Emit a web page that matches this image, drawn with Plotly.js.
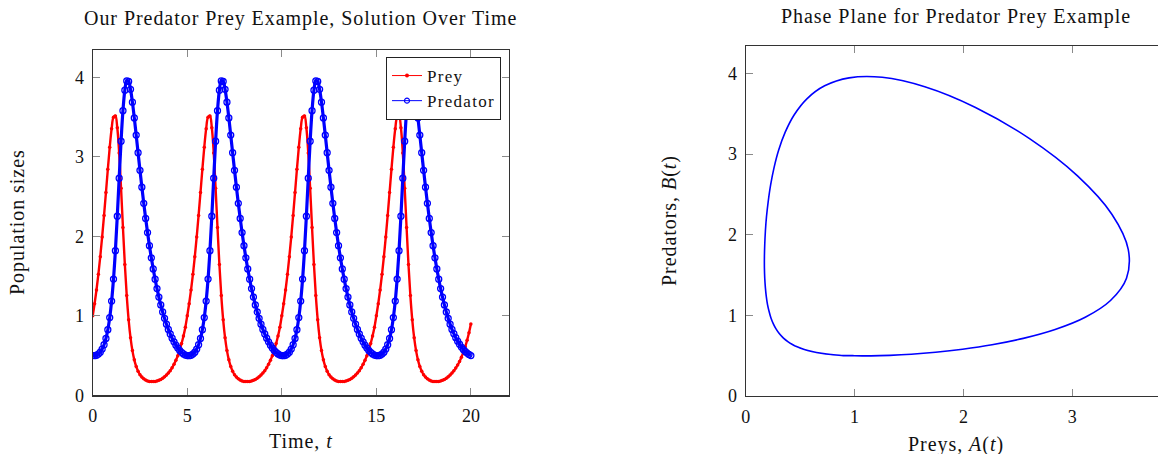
<!DOCTYPE html>
<html><head><meta charset="utf-8">
<script src="https://cdn.plot.ly/plotly-3.0.1.min.js"></script>
<style>
html,body{margin:0;padding:0;overflow:hidden;width:1158px;height:454px;background:#fff}
#chart{width:1180px;height:454px}
text.annotation-text{letter-spacing:0.95px}
text.legendtext{letter-spacing:1.3px}
</style>
</head><body><div id="chart"></div>
<script>
// sample times t
const time = [0,0.1,0.2,0.3,0.4,0.5,0.6,0.7,0.8,0.9,1,1.1,1.2,1.3,1.4,1.5,1.6,1.7,1.8,1.9,2,2.1,2.2,2.3,2.4,2.5,2.6,2.7,2.8,2.9,3,3.1,3.2,3.3,3.4,3.5,3.6,3.7,3.8,3.9,4,4.1,4.2,4.3,4.4,4.5,4.6,4.7,4.8,4.9,
5,5.1,5.2,5.3,5.4,5.5,5.6,5.7,5.8,5.9,6,6.1,6.2,6.3,6.4,6.5,6.6,6.7,6.8,6.9,7,7.1,7.2,7.3,7.4,7.5,7.6,7.7,7.8,7.9,8,8.1,8.2,8.3,8.4,8.5,8.6,8.7,8.8,8.9,9,9.1,9.2,9.3,9.4,9.5,9.6,9.7,9.8,9.9,
10,10.1,10.2,10.3,10.4,10.5,10.6,10.7,10.8,10.9,11,11.1,11.2,11.3,11.4,11.5,11.6,11.7,11.8,11.9,12,12.1,12.2,12.3,12.4,12.5,12.6,12.7,12.8,12.9,13,13.1,13.2,13.3,13.4,13.5,13.6,13.7,13.8,13.9,14,14.1,14.2,14.3,14.4,14.5,14.6,14.7,14.8,14.9,
15,15.1,15.2,15.3,15.4,15.5,15.6,15.7,15.8,15.9,16,16.1,16.2,16.3,16.4,16.5,16.6,16.7,16.8,16.9,17,17.1,17.2,17.3,17.4,17.5,17.6,17.7,17.8,17.9,18,18.1,18.2,18.3,18.4,18.5,18.6,18.7,18.8,18.9,19,19.1,19.2,19.3,19.4,19.5,19.6,19.7,19.8,19.9,20];

// prey population A(t)
const prey = [1.000,1.151,1.324,1.521,1.744,1.992,2.263,2.550,2.842,3.119,3.351,3.498,3.514,3.365,3.048,2.604,2.111,1.645,1.254,0.950,0.725,0.562,0.446,0.363,0.303,0.260,0.229,0.207,0.191,0.181,0.175,0.172,0.172,0.175,0.181,0.189,0.200,0.215,0.232,0.254,0.280,0.310,0.347,0.390,0.440,0.499,0.569,0.651,0.746,0.857,
1.000,1.151,1.324,1.521,1.744,1.992,2.263,2.550,2.842,3.119,3.351,3.498,3.514,3.365,3.048,2.604,2.111,1.645,1.254,0.950,0.725,0.562,0.446,0.363,0.303,0.260,0.229,0.207,0.191,0.181,0.175,0.172,0.172,0.175,0.181,0.189,0.200,0.215,0.232,0.254,0.280,0.310,0.347,0.390,0.440,0.499,0.569,0.651,0.746,0.857,
1.000,1.151,1.324,1.521,1.744,1.992,2.263,2.550,2.842,3.119,3.351,3.498,3.514,3.365,3.048,2.604,2.111,1.645,1.254,0.950,0.725,0.562,0.446,0.363,0.303,0.260,0.229,0.207,0.191,0.181,0.175,0.172,0.172,0.175,0.181,0.189,0.200,0.215,0.232,0.254,0.280,0.310,0.347,0.390,0.440,0.499,0.569,0.651,0.746,0.857,
1.000,1.151,1.324,1.521,1.744,1.992,2.263,2.550,2.842,3.119,3.351,3.498,3.514,3.365,3.048,2.604,2.111,1.645,1.254,0.950,0.725,0.562,0.446,0.363,0.303,0.260,0.229,0.207,0.191,0.181,0.175,0.172,0.172,0.175,0.181,0.189,0.200,0.215,0.232,0.254,0.280,0.308,0.342,0.381,0.425,0.478,0.539,0.610,0.692,0.786,0.897];

// predator population B(t)
const predator = [0.500,0.498,0.504,0.518,0.543,0.581,0.636,0.715,0.825,0.977,1.185,1.462,1.819,2.252,2.730,3.195,3.580,3.837,3.954,3.947,3.848,3.687,3.489,3.273,3.051,2.830,2.618,2.415,2.225,2.047,1.882,1.729,1.589,1.460,1.342,1.235,1.137,1.048,0.968,0.895,0.829,0.771,0.718,0.672,0.631,0.595,0.565,0.540,0.520,0.506,
0.500,0.498,0.504,0.518,0.543,0.581,0.636,0.715,0.825,0.977,1.185,1.462,1.819,2.252,2.730,3.195,3.580,3.837,3.954,3.947,3.848,3.687,3.489,3.273,3.051,2.830,2.618,2.415,2.225,2.047,1.882,1.729,1.589,1.460,1.342,1.235,1.137,1.048,0.968,0.895,0.829,0.771,0.718,0.672,0.631,0.595,0.565,0.540,0.520,0.506,
0.500,0.498,0.504,0.518,0.543,0.581,0.636,0.715,0.825,0.977,1.185,1.462,1.819,2.252,2.730,3.195,3.580,3.837,3.954,3.947,3.848,3.687,3.489,3.273,3.051,2.830,2.618,2.415,2.225,2.047,1.882,1.729,1.589,1.460,1.342,1.235,1.137,1.048,0.968,0.895,0.829,0.771,0.718,0.672,0.631,0.595,0.565,0.540,0.520,0.506,
0.500,0.498,0.504,0.518,0.543,0.581,0.636,0.715,0.825,0.977,1.185,1.462,1.819,2.252,2.730,3.195,3.580,3.837,3.954,3.947,3.848,3.687,3.489,3.273,3.051,2.830,2.618,2.415,2.225,2.047,1.882,1.729,1.589,1.460,1.342,1.235,1.137,1.048,0.968,0.895,0.829,0.775,0.725,0.681,0.642,0.607,0.577,0.552,0.531,0.514,0.500];

const timeTicks = [0,5,10,15,20];
const popTicks = [0,1,2,3,4];
const preyTicks = [0,1,2,3];
const seriesNames = ['Prey','Predator'];
const leftTitle = 'Our Predator Prey Example, Solution Over Time';
const rightTitle = 'Phase Plane for Predator Prey Example';
const timeLabel = 'Time, <i>t</i>';
const popLabel = 'Population sizes';
const preyLabel = 'Preys, <i>A</i>(<i>t</i>)';
const predLabel = 'Predators, <i>B</i>(<i>t</i>)';

const W = 1180, H = 454;
const px = x => x / W;
const py = y => 1 - y / H;
const FONT = '"Liberation Serif", "Times New Roman", serif';
const RED = '#ff0000', BLUE = '#0000ff';

const traces = [
  {x: time, y: prey, name: seriesNames[0], type: 'scatter', mode: 'lines+markers', showlegend: false,
   line: {color: RED, width: 2.4, shape: 'spline'},
   marker: {color: RED, size: 3.5, symbol: 'circle'}, xaxis: 'x', yaxis: 'y'},
  {x: time, y: predator, name: seriesNames[1], type: 'scatter', mode: 'lines+markers', showlegend: false,
   line: {color: BLUE, width: 3.2, shape: 'spline'},
   marker: {color: BLUE, size: 6, symbol: 'circle-open', line: {color: BLUE, width: 1.3}}, xaxis: 'x', yaxis: 'y'},
  {x: prey, y: predator, type: 'scatter', mode: 'lines', showlegend: false,
   line: {color: BLUE, width: 1.6, shape: 'spline'}, xaxis: 'x2', yaxis: 'y2'},
  // legend keys (thin line + single marker, as in the reference legend)
  {x: [null], y: [null], name: seriesNames[0], type: 'scatter', mode: 'lines+markers',
   line: {color: RED, width: 1}, marker: {color: RED, size: 4, symbol: 'circle'}, xaxis: 'x', yaxis: 'y'},
  {x: [null], y: [null], name: seriesNames[1], type: 'scatter', mode: 'lines+markers',
   line: {color: BLUE, width: 1}, marker: {color: BLUE, size: 5, symbol: 'circle-open', line: {color: BLUE, width: 1.2}}, xaxis: 'x', yaxis: 'y'}
];

const axBase = {
  showgrid: false, zeroline: false, showline: true, linecolor: '#333', linewidth: 1.2,
  mirror: 'ticks', ticks: 'inside', ticklen: 7, tickwidth: 1, tickcolor: '#8a8a8a',
  tickfont: {family: FONT, size: 18, color: '#111'}, fixedrange: true
};

function ann(text, x, y, angle) {
  return {text: text, x: px(x), y: py(y), xref: 'paper', yref: 'paper', showarrow: false,
          xanchor: 'center', yanchor: 'middle', textangle: angle || 0,
          font: {family: FONT, size: 20, color: '#111'}};
}

const layout = {
  width: W, height: H, margin: {l: 0, r: 0, t: 0, b: 0},
  paper_bgcolor: '#fff', plot_bgcolor: '#fff',
  font: {family: FONT, size: 18, color: '#111'},
  xaxis: Object.assign({}, axBase, {domain: [px(92.7), px(508.7)], range: [0, 22], tickvals: timeTicks, anchor: 'y', ticklabelstandoff: 4}),
  yaxis: Object.assign({}, axBase, {domain: [py(395.3), py(50)], range: [0, 4.343], tickvals: popTicks, anchor: 'x', ticklabelstandoff: 4}),
  xaxis2: Object.assign({}, axBase, {domain: [px(745.7), px(1167)], range: [0, 3.87], tickvals: preyTicks, anchor: 'y2', ticklabelstandoff: 4}),
  yaxis2: Object.assign({}, axBase, {domain: [py(396), py(46)], range: [0, 4.342], tickvals: popTicks, anchor: 'x2', ticklabelstandoff: 4}),
  showlegend: true,
  legend: {x: px(501), xanchor: 'right', y: py(57), yanchor: 'top', bgcolor: '#fff',
           bordercolor: '#222', borderwidth: 1, font: {family: FONT, size: 17, color: '#111'},
           tracegroupgap: 0, itemwidth: 30},
  annotations: [
    ann(leftTitle, 300.7, 19),
    ann(rightTitle, 956, 16),
    ann(timeLabel, 301, 441),
    ann(popLabel, 17, 222, -90),
    ann(preyLabel, 956, 444),
    ann(predLabel, 669, 221, -90)
  ]
};

Plotly.newPlot('chart', traces, layout, {displayModeBar: false, staticPlot: true});
</script></body></html>
